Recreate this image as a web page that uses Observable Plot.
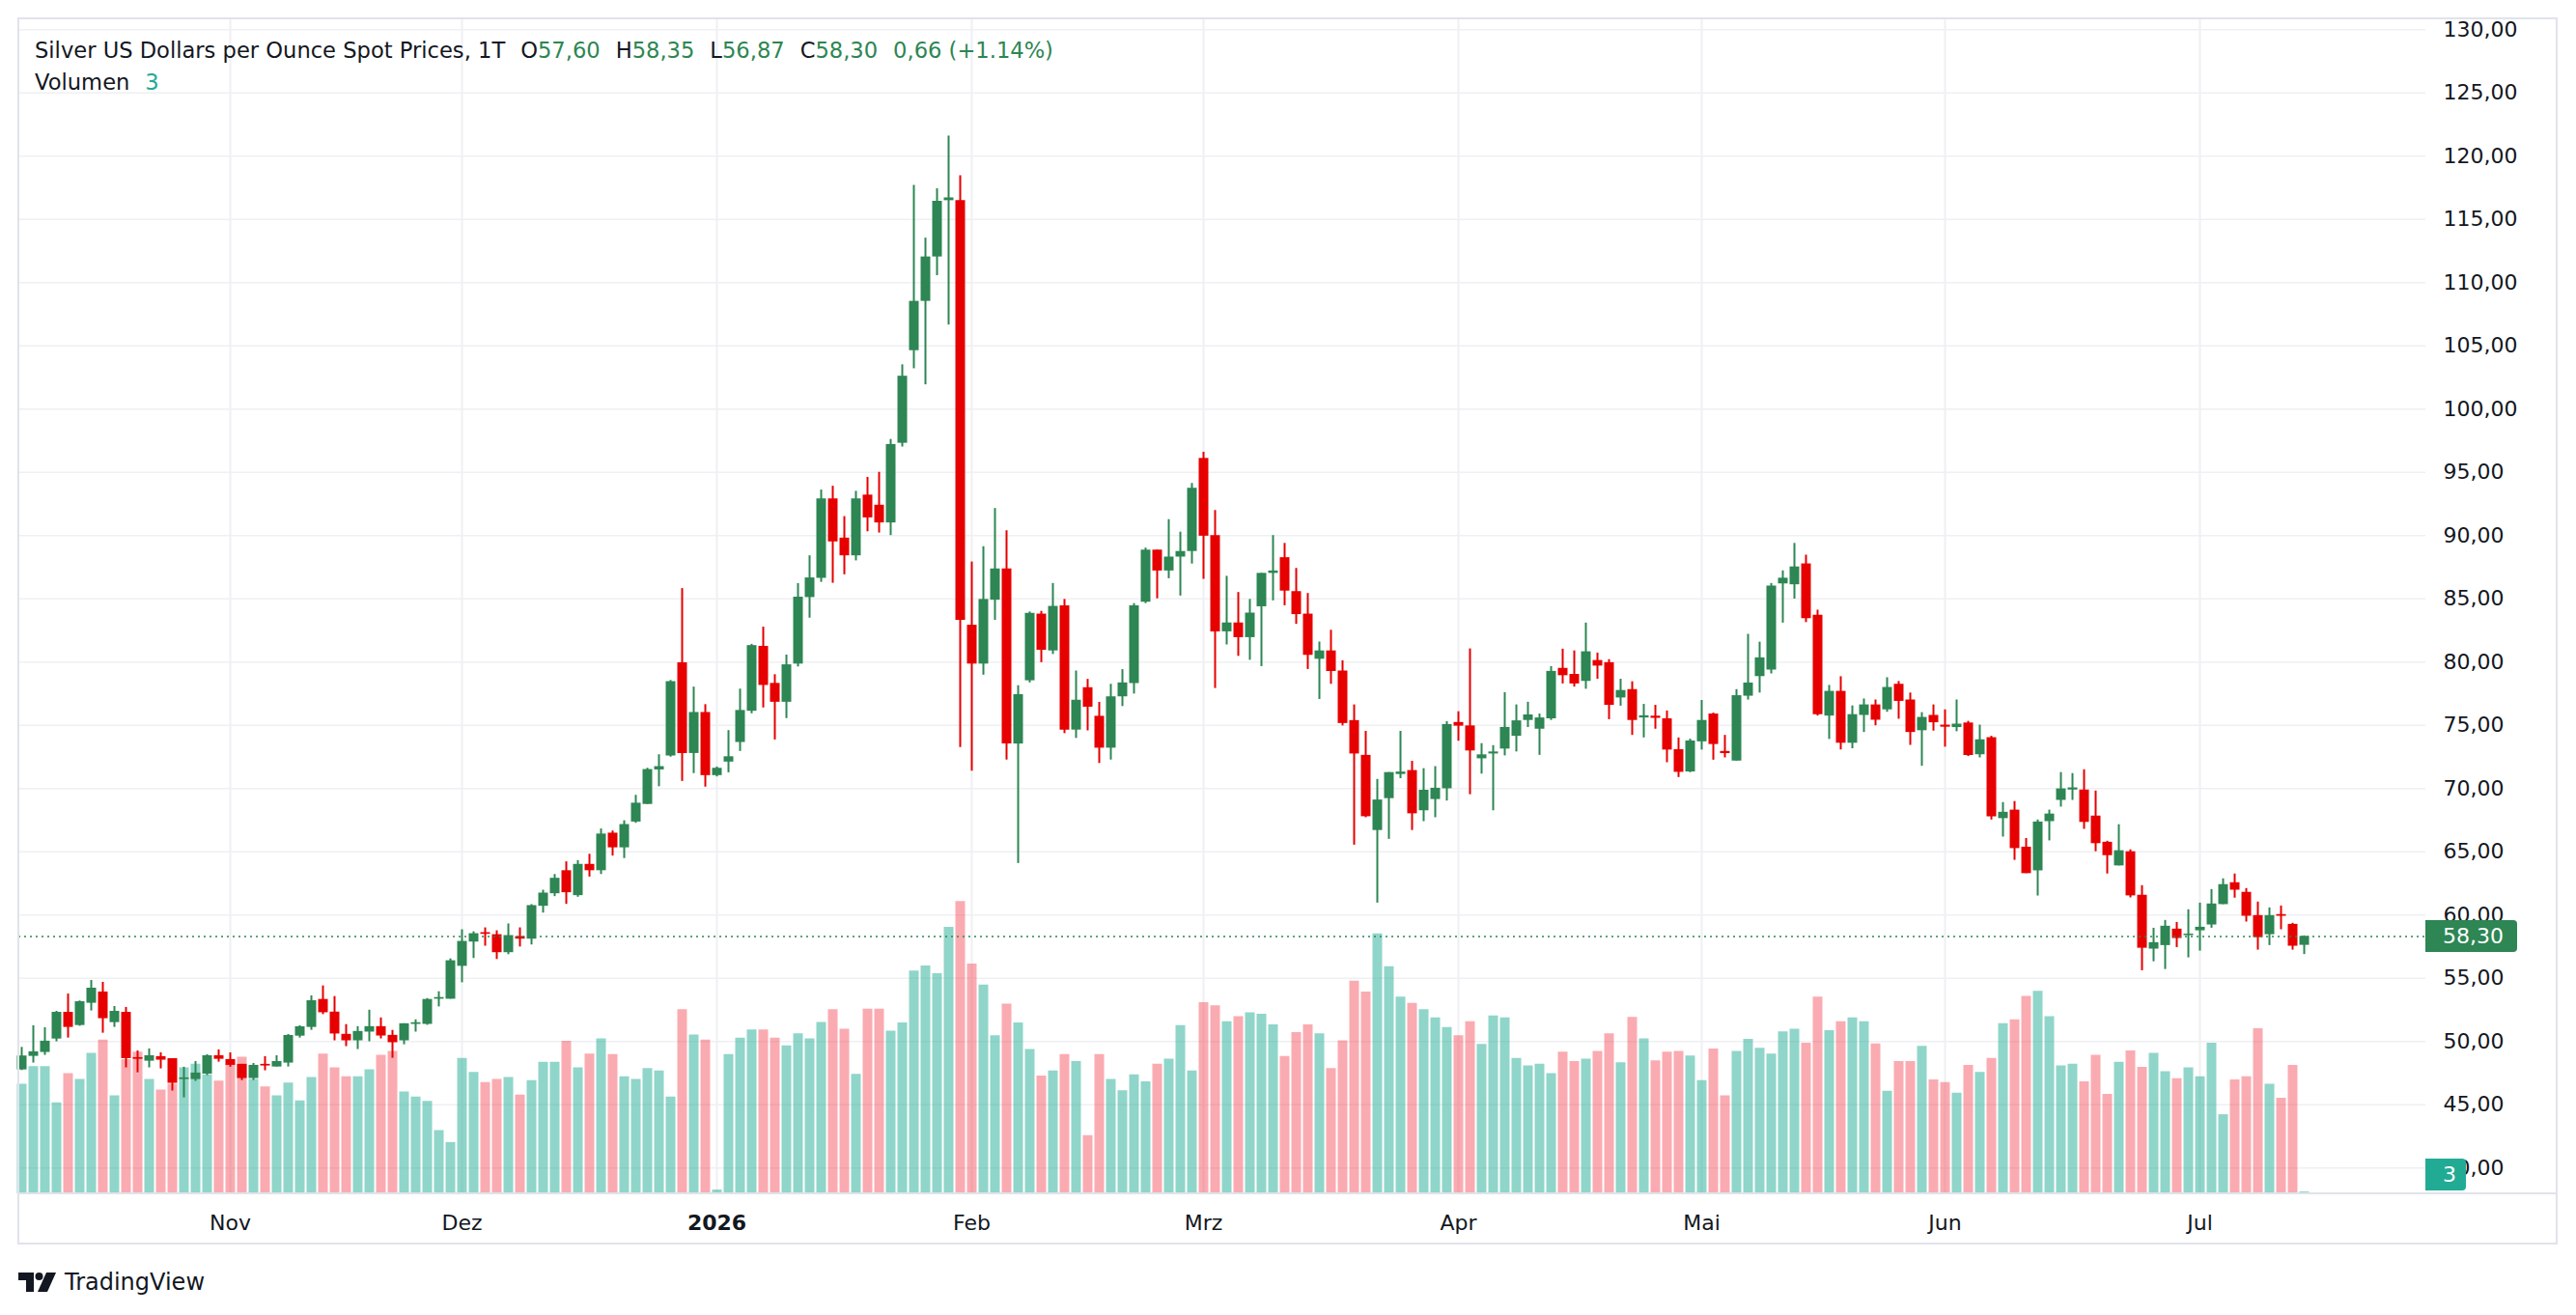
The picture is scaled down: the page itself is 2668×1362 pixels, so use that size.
<!DOCTYPE html>
<html><head><meta charset="utf-8">
<script src="https://cdn.jsdelivr.net/npm/d3@7"></script>
<script src="https://cdn.jsdelivr.net/npm/@observablehq/plot@0.6"></script>
<style>
html,body{margin:0;padding:0;background:#fff;}
#wrap{position:relative;width:2668px;height:1362px;overflow:hidden;font-family:"DejaVu Sans",sans-serif;color:#131722;background:#fff;}
#wrap svg{position:absolute;left:0;top:0;}
.frame{position:absolute;left:18px;top:18px;width:2631px;height:1271px;border:2px solid #e0e3eb;box-sizing:border-box;}
.sep{position:absolute;left:18px;top:1235px;width:2631px;height:2px;background:#e0e3eb;}
.legend{position:absolute;left:36px;font-size:22.6px;line-height:26px;white-space:nowrap;}
.legend span.g{color:#2d8653;}
.legend span.t{color:#22ab94;}
.legend .sp{display:inline-block;width:16px;}
.box{position:absolute;color:#fff;font-size:22px;box-sizing:border-box;padding-left:18px;border-radius:0 4px 4px 0;}
.logo{position:absolute;left:19px;top:1314px;display:flex;align-items:center;font-size:24px;color:#131722;}
</style></head><body><div id="wrap"></div><script>
// ---- data (daily candles, index 0..197) ----
const open  = [47.75,48.82,49.13,50.19,52.30,51.26,53.02,53.91,51.49,52.30,48.72,48.44,48.80,48.64,46.99,46.99,47.42,48.87,48.57,48.19,47.07,48.19,47.98,48.29,50.42,51.11,53.32,52.32,50.56,50.05,50.74,51.17,50.48,50.05,51.35,51.35,53.34,53.34,55.94,57.86,58.60,58.44,57.02,58.29,58.09,60.69,61.68,63.50,61.53,64.00,63.50,66.47,65.31,67.35,68.74,71.47,72.57,79.94,72.77,76.01,71.02,72.09,73.64,76.11,81.24,78.31,76.82,79.84,85.10,86.62,92.90,89.80,88.40,93.20,92.40,91.00,97.30,104.62,108.52,112.03,116.48,116.48,82.91,79.84,84.89,87.36,73.52,78.52,83.79,80.88,84.45,74.62,77.97,75.71,73.19,77.25,78.30,84.73,88.85,87.20,88.30,88.74,96.10,90.00,82.39,83.09,81.93,84.37,87.01,88.25,85.57,83.79,80.22,80.88,79.29,75.37,72.62,66.68,69.20,71.11,71.42,68.24,69.13,69.98,75.22,74.95,72.35,72.73,73.12,74.13,75.38,74.69,75.51,79.50,79.02,78.47,80.12,79.95,77.16,77.82,75.58,75.72,75.51,73.07,71.31,73.69,75.89,72.93,72.17,77.30,78.85,79.37,86.18,86.11,87.76,83.70,75.73,77.68,73.58,75.78,76.61,76.22,78.24,77.00,74.57,75.78,75.01,74.82,75.18,72.67,74.02,67.62,68.29,65.36,63.49,67.38,69.06,69.88,69.88,67.82,65.75,63.88,65.00,61.56,57.30,57.58,58.88,58.37,58.75,59.21,60.82,62.55,61.79,59.95,58.44,60.03,59.26,57.60];
const high  = [49.53,51.24,51.08,52.38,53.75,53.20,54.82,54.67,52.76,52.69,49.25,49.41,49.10,48.64,47.96,48.41,48.95,49.33,49.10,48.19,48.26,48.80,48.87,50.55,51.24,53.60,54.39,53.55,51.33,51.17,52.47,51.86,50.87,51.40,51.71,53.39,53.93,56.53,58.83,58.67,58.98,58.75,59.29,58.98,60.82,61.96,63.20,64.20,64.30,64.80,66.80,66.64,67.45,69.46,71.60,72.67,78.54,85.81,78.02,76.63,71.70,74.58,77.86,81.40,82.76,79.00,80.55,86.20,88.40,93.60,93.90,91.50,93.50,94.60,95.00,97.60,103.50,117.69,113.52,117.42,121.59,118.46,87.91,89.12,92.14,90.38,78.13,83.96,84.01,86.21,84.95,79.29,78.63,76.81,78.24,79.40,84.62,89.01,88.85,91.26,90.27,94.12,96.59,91.98,86.78,85.50,84.95,87.01,90.00,89.38,87.40,85.42,81.58,82.51,80.10,76.61,74.52,70.72,71.26,74.52,72.15,71.57,71.73,75.29,76.07,81.04,73.55,73.39,77.58,76.61,76.82,75.89,79.64,81.02,80.88,83.08,80.71,80.19,78.64,78.44,76.65,76.58,76.13,74.00,73.90,76.96,75.96,74.20,77.82,82.19,81.57,86.21,87.21,89.38,88.45,84.10,78.15,78.84,76.53,77.08,77.00,78.76,78.46,77.55,76.00,76.61,76.22,77.00,75.31,75.01,74.13,68.89,68.97,66.05,67.51,68.29,71.26,71.18,71.48,69.80,65.83,67.14,65.15,62.32,58.95,59.57,59.41,60.41,60.94,62.01,62.86,63.24,62.09,61.02,60.56,60.71,59.34,58.35];
const low   = [47.70,48.29,48.90,49.97,50.27,51.20,52.41,50.65,51.11,47.91,47.52,47.91,47.83,46.08,45.54,46.84,47.30,48.36,47.96,46.91,46.91,47.68,47.98,47.98,50.27,50.88,52.12,50.05,49.59,49.36,49.97,50.20,48.67,49.74,50.74,51.28,52.73,53.34,54.64,56.56,57.53,56.48,56.86,57.47,57.63,60.15,61.45,60.84,61.40,63.00,63.20,64.66,64.46,67.25,68.74,70.14,72.48,70.56,71.18,70.11,70.92,71.24,72.93,75.91,76.37,73.84,75.53,79.61,83.47,86.30,86.23,86.90,88.00,90.30,90.20,90.00,97.00,103.19,101.92,110.55,106.65,73.24,71.37,78.96,83.30,72.25,64.07,78.35,79.95,80.60,74.34,73.96,74.56,71.98,72.25,76.48,77.47,84.62,85.00,86.59,85.22,87.75,86.54,77.91,81.35,80.45,80.14,79.64,84.84,84.45,82.98,79.41,77.04,78.24,74.95,65.52,67.69,60.94,65.98,70.78,66.68,67.38,67.69,69.01,73.74,69.51,71.14,68.24,72.58,72.89,74.82,72.62,75.38,78.27,78.02,77.85,78.64,75.44,76.51,74.20,74.00,74.69,72.04,70.87,71.25,73.04,72.24,72.42,72.17,76.99,77.55,79.06,83.08,84.98,83.12,75.73,73.88,73.05,73.14,74.43,74.96,76.03,75.48,73.41,71.76,74.54,73.27,74.49,72.53,72.42,67.51,66.16,64.32,63.27,61.50,65.86,68.53,69.06,66.77,65.00,63.24,63.88,61.35,55.59,56.30,55.69,57.42,56.61,57.14,58.95,60.82,61.33,59.44,57.22,57.58,58.83,57.22,56.87];
const close = [48.85,49.18,50.02,52.30,51.11,53.14,54.21,51.80,52.38,48.64,48.59,48.87,48.52,46.69,47.12,47.50,48.87,48.59,48.11,47.07,48.11,48.06,48.41,50.47,51.16,53.22,52.27,50.59,50.05,50.79,51.17,50.43,49.90,51.40,51.48,53.32,53.47,56.38,57.91,58.52,58.47,57.02,58.37,58.09,60.74,61.73,62.90,61.76,64.00,63.50,66.40,65.31,67.15,68.84,71.50,71.73,78.45,72.77,76.01,71.02,71.60,72.51,76.17,81.30,78.15,76.82,79.78,85.13,86.65,92.90,89.50,88.40,92.90,91.40,91.00,97.20,102.60,108.52,112.03,116.43,116.70,83.30,79.84,84.95,87.36,73.52,77.42,83.85,80.93,84.40,74.62,76.98,76.43,73.19,77.25,78.35,84.45,88.85,87.20,88.30,88.74,93.74,89.95,82.39,83.09,81.93,83.87,87.01,87.20,85.61,83.75,80.53,80.88,79.25,75.14,72.73,67.77,69.09,71.26,71.30,68.00,69.86,70.02,75.06,74.93,72.97,72.66,72.89,74.83,75.35,75.82,75.58,79.26,78.92,78.27,80.81,79.68,76.58,77.75,75.38,75.75,75.55,73.04,71.28,73.76,75.38,73.48,72.76,77.34,78.34,80.33,86.01,86.63,87.52,83.43,75.84,77.68,73.58,75.84,76.61,75.40,77.99,76.89,74.43,75.62,75.20,74.85,75.09,72.61,73.85,67.76,68.12,65.25,63.27,67.35,67.98,69.97,70.05,67.32,65.64,64.69,65.08,61.51,57.37,57.81,59.11,58.14,58.49,59.03,60.87,62.40,61.96,59.90,58.21,59.95,59.90,57.53,58.30];
const volume = [173,201,201,144,190,181,222,243,155,212,224,181,164,173,199,205,188,178,204,216,181,169,155,175,147,184,221,199,185,185,196,219,225,161,153,146,100,81,214,192,176,181,184,156,179,208,208,241,199,221,245,220,185,181,198,194,153,291,251,243,6,220,246,259,259,246,234,253,245,271,291,260,189,292,292,257,270,352,360,348,421,462,363,330,250,300,270,228,186,194,220,209,92,220,181,163,188,177,205,213,266,194,302,297,272,280,286,284,267,217,255,267,253,198,242,336,319,411,359,311,301,291,278,263,250,272,236,281,278,214,202,205,190,224,209,213,225,253,207,279,245,210,224,225,218,179,229,155,225,244,230,221,256,260,238,311,258,272,278,272,237,162,209,209,233,180,176,159,203,192,214,269,275,312,320,280,202,205,177,219,157,208,226,200,222,193,182,199,185,238,125,180,185,261,173,151,203,3];
const monthIdx    = [18, 38, 60, 82, 102, 124, 145, 166, 188];
const monthLabels = ["Nov", "Dez", "2026", "Feb", "Mrz", "Apr", "Mai", "Jun", "Jul"];
const priceTicks  = [40,45,50,55,60,65,70,75,80,85,90,95,100,105,110,115,120,125,130];
const title = "Silver US Dollars per Ounce Spot Prices, 1T";

// ---- styling / layout ----
const UP = "#2d8653", DOWN = "#e60000";
const VUP = "rgba(34,171,148,0.5)", VDOWN = "rgba(242,54,69,0.42)";
const GRID = "#eff0f3";
const W = 2668, H = 1362;
const M = {marginLeft: 19, marginRight: 156, marginTop: 19, marginBottom: 126};
const XDOM = [-0.25, 207.5];
const YDOM = [37.95, 130.86];
const VDOM = [0, 1857];
const fmt = d => d.toFixed(2).replace(".", ",");

const data = close.map((c, i) => ({i, o: open[i], h: high[i], l: low[i], c, v: volume[i], up: c >= open[i]}));
const last = data[data.length - 1];
const labelOf = new Map(monthIdx.map((m, k) => [m, monthLabels[k]]));

const base = {width: W, height: H, ...M, style: {background: "transparent", fontFamily: "DejaVu Sans", fontSize: "22px", color: "#131722", overflow: "visible"}};
const wrap = document.getElementById("wrap");

// layer 1: grid
const gridPlot = Plot.plot({...base,
  x: {domain: XDOM, axis: null}, y: {domain: YDOM, axis: null},
  marks: [
    Plot.ruleY(priceTicks, {stroke: GRID, strokeWidth: 1.5}),
    Plot.ruleX(monthIdx, {stroke: GRID, strokeWidth: 2})
  ]});
wrap.appendChild(gridPlot);

// layer 2: volume
const volPlot = Plot.plot({...base,
  x: {domain: XDOM, axis: null}, y: {domain: VDOM, axis: null},
  color: {type: "identity"},
  marks: [
    Plot.ruleX(data, {x: "i", y1: 0, y2: "v", stroke: d => d.up ? VUP : VDOWN, strokeWidth: 10})
  ]});
wrap.appendChild(volPlot);

// layer 3: candles + axes
const pricePlot = Plot.plot({...base,
  x: {domain: XDOM}, y: {domain: YDOM},
  color: {type: "identity"},
  marks: [
    Plot.ruleX(data, {x: "i", y1: "l", y2: "h", stroke: d => d.up ? UP : DOWN, strokeWidth: 2}),
    Plot.ruleX(data, {x: "i", y1: "o", y2: "c", stroke: d => d.up ? UP : DOWN, strokeWidth: 10}),
    Plot.ruleY([last.c], {stroke: UP, strokeWidth: 1.5, strokeDasharray: "2,4"}),
    Plot.axisY(priceTicks, {anchor: "right", tickSize: 0, tickPadding: 18, tickFormat: fmt, fontSize: 22, label: null}),
    Plot.axisX(monthIdx.filter(m => labelOf.get(m) !== "2026"), {anchor: "bottom", tickSize: 0, tickPadding: 22, tickFormat: m => labelOf.get(m), fontSize: 22, label: null}),
    Plot.axisX(monthIdx.filter(m => labelOf.get(m) === "2026"), {anchor: "bottom", tickSize: 0, tickPadding: 22, tickFormat: m => labelOf.get(m), fontSize: 22, fontWeight: "bold", label: null})
  ]});
wrap.appendChild(pricePlot);

// frame chrome
const frame = document.createElement("div"); frame.className = "frame"; wrap.appendChild(frame);
const sep = document.createElement("div"); sep.className = "sep"; wrap.appendChild(sep);

// last price label
const yP = pricePlot.scale("y").apply(last.c);
const pb = document.createElement("div");
pb.className = "box";
Object.assign(pb.style, {left: "2512px", top: (yP - 16.5) + "px", width: "95px", height: "33px", lineHeight: "33px", background: UP});
pb.textContent = fmt(last.c);
wrap.appendChild(pb);

// last volume label
const yV = volPlot.scale("y").apply(last.v);
const vb = document.createElement("div");
vb.className = "box";
Object.assign(vb.style, {left: "2512px", top: Math.min(yV - 16.5, 1200) + "px", width: "42px", height: "33px", lineHeight: "33px", background: "#22ab94"});
vb.textContent = String(last.v);
wrap.appendChild(vb);

// legend
const l1 = document.createElement("div");
l1.className = "legend"; l1.style.top = "39px";
l1.innerHTML = `${title}<span class="sp"></span>O<span class="g">${fmt(last.o)}</span><span class="sp"></span>H<span class="g">${fmt(last.h)}</span><span class="sp"></span>L<span class="g">${fmt(last.l)}</span><span class="sp"></span>C<span class="g">${fmt(last.c)}</span><span class="sp"></span><span class="g">${fmt(0.66)} (+1.14%)</span>`;
wrap.appendChild(l1);
const l2 = document.createElement("div");
l2.className = "legend"; l2.style.top = "72px";
l2.innerHTML = `Volumen<span class="sp"></span><span class="t">${last.v}</span>`;
wrap.appendChild(l2);

// logo
const logo = document.createElement("div");
logo.className = "logo";
logo.innerHTML = `<svg width="40" height="24" viewBox="0 0 40 24" style="position:static;margin-right:8px"><path d="M0 2h16v20H8V10H0z" fill="#131722"/><circle cx="21.5" cy="6" r="4" fill="#131722"/><path d="M29 2h10l-9 20H20z" fill="#131722"/></svg><span>TradingView</span>`;
wrap.appendChild(logo);
</script></body></html>
